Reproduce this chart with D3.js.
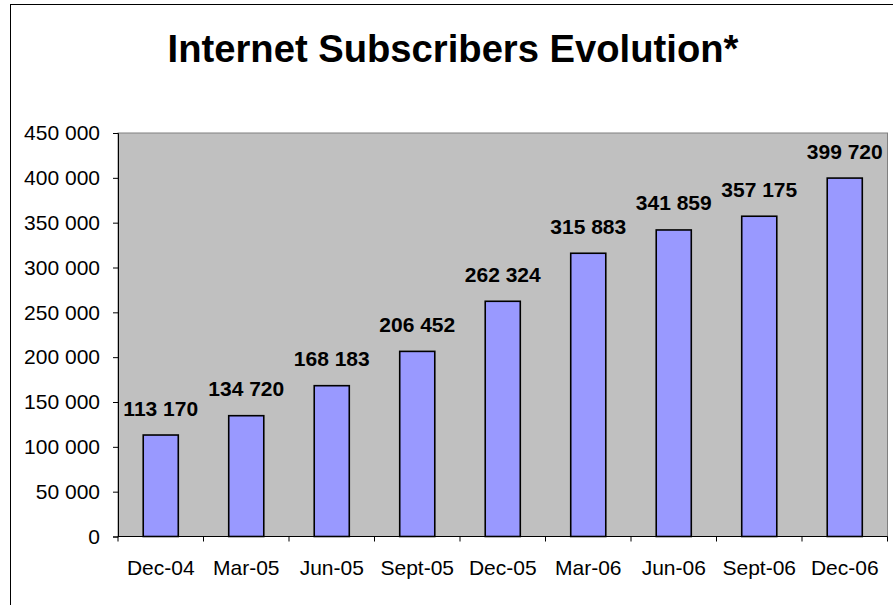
<!DOCTYPE html>
<html>
<head>
<meta charset="utf-8">
<script src="https://cdn.jsdelivr.net/npm/d3@7"></script>
<style>
  html, body { margin: 0; padding: 0; background: #fff; }
  svg { display: block; font-family: "Liberation Sans", Arial, sans-serif; }
</style>
</head>
<body>
<svg id="chart" width="893" height="605"></svg>
<script>
// Quarterly internet subscriber counts
const categories = ["Dec-04", "Mar-05", "Jun-05", "Sept-05", "Dec-05", "Mar-06", "Jun-06", "Sept-06", "Dec-06"];
const subscribers = [113170, 134720, 168183, 206452, 262324, 315883, 341859, 357175, 399720];
const yTicks = [0, 50000, 100000, 150000, 200000, 250000, 300000, 350000, 400000, 450000];
const titleText = "Internet Subscribers Evolution*";

const svg = d3.select("#chart");
const plot = { left: 118, right: 887.5, top: 133, bottom: 536.5 };
const FONT = "Liberation Sans, Arial, sans-serif";

// thousands separated by a space
const fmt = v => d3.format(",")(v).replace(/,/g, " ");

// outer chart frame
svg.append("rect")
  .attr("x", 10.5).attr("y", 4.5)
  .attr("width", 886).attr("height", 610)
  .attr("fill", "#fff").attr("stroke", "#000").attr("stroke-width", 1);

svg.append("text")
  .attr("x", 453).attr("y", 62)
  .attr("text-anchor", "middle")
  .attr("font-size", 38.2).attr("font-weight", "bold")
  .text(titleText);

const x = d3.scaleBand().domain(categories).range([plot.left, plot.right]).paddingInner(0).paddingOuter(0);
const y = d3.scaleLinear().domain([0, 450000]).range([plot.bottom, plot.top]);

// plot area
svg.append("rect")
  .attr("x", plot.left).attr("y", plot.top)
  .attr("width", plot.right - plot.left).attr("height", plot.bottom - plot.top)
  .attr("fill", "#C0C0C0").attr("stroke", "#808080").attr("stroke-width", 1);

// bars
const barW = x.bandwidth() * 0.41;
svg.append("g").selectAll("rect")
  .data(categories)
  .join("rect")
  .attr("x", (d) => x(d) + (x.bandwidth() - barW) / 2)
  .attr("y", (d, i) => y(subscribers[i]))
  .attr("width", barW)
  .attr("height", (d, i) => y(0) - y(subscribers[i]))
  .attr("fill", "#9999FF").attr("stroke", "#000").attr("stroke-width", 1.6);

// value labels
svg.append("g").selectAll("text")
  .data(categories)
  .join("text")
  .attr("x", d => x(d) + x.bandwidth() / 2)
  .attr("y", (d, i) => y(subscribers[i]) - 19.5)
  .attr("text-anchor", "middle")
  .attr("font-size", 21).attr("font-weight", "bold")
  .text((d, i) => fmt(subscribers[i]));

// y axis
const yAxis = svg.append("g")
  .attr("transform", `translate(${plot.left},0)`)
  .call(d3.axisLeft(y).tickValues(yTicks).tickFormat(fmt).tickSize(5).tickPadding(13));
yAxis.select(".domain").attr("stroke", "#000").attr("stroke-width", 1);
yAxis.selectAll("text").attr("font-size", 21).attr("fill", "#000").attr("font-family", FONT);

// x axis with ticks on category boundaries
const xAxis = svg.append("g")
  .attr("transform", `translate(0,${plot.bottom})`);
xAxis.append("line")
  .attr("x1", plot.left).attr("x2", plot.right)
  .attr("stroke", "#000");
xAxis.selectAll("line.tick")
  .data(categories.concat(["end"]))
  .join("line")
  .attr("class", "tick")
  .attr("x1", (d, i) => plot.left + i * x.bandwidth())
  .attr("x2", (d, i) => plot.left + i * x.bandwidth())
  .attr("y1", 0).attr("y2", 5)
  .attr("stroke", "#000");
xAxis.selectAll("text")
  .data(categories)
  .join("text")
  .attr("x", d => x(d) + x.bandwidth() / 2)
  .attr("y", 38.5)
  .attr("text-anchor", "middle")
  .attr("font-size", 21)
  .text(d => d);
</script>
</body>
</html>
